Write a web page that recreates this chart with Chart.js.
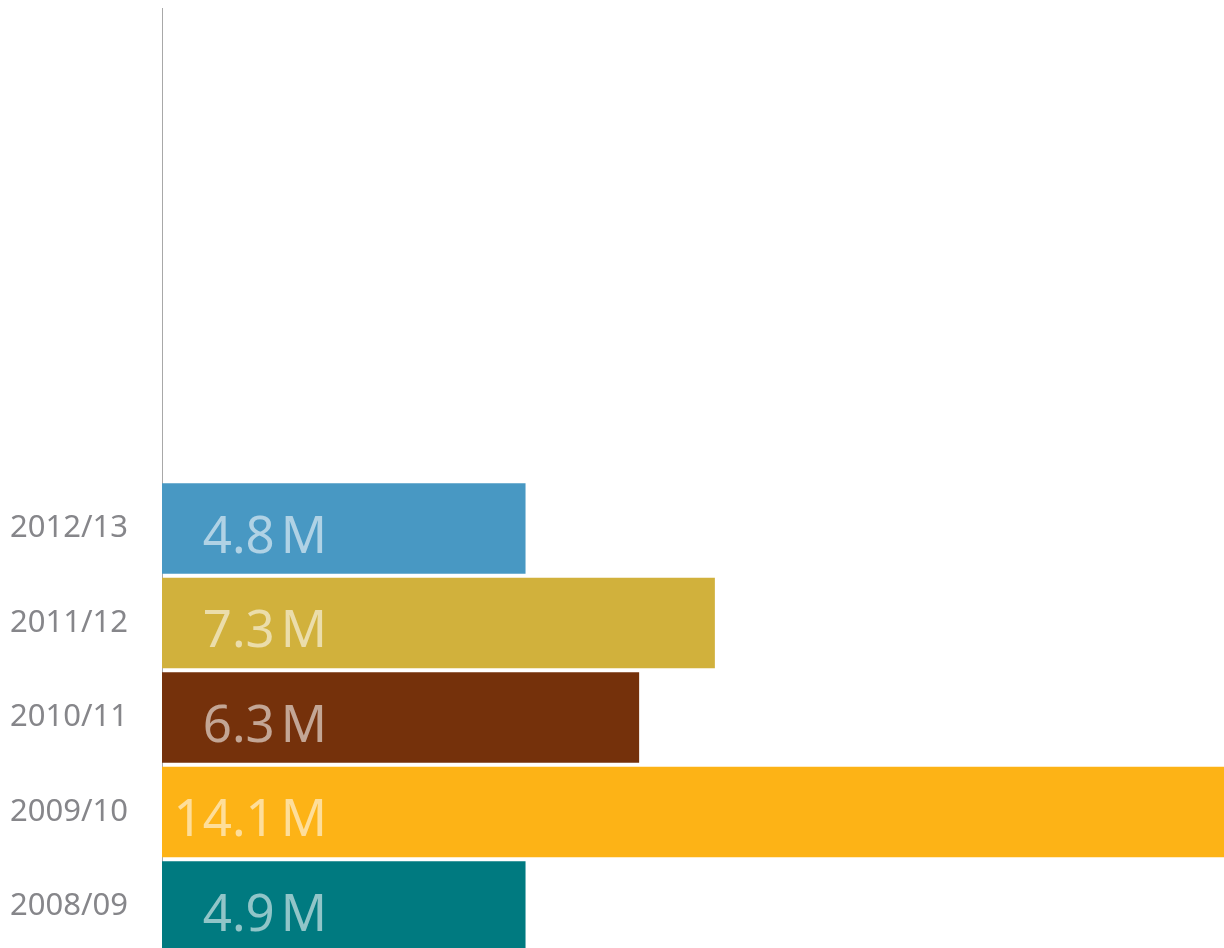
<!DOCTYPE html>
<html>
<head>
<meta charset="utf-8">
<script src="https://cdn.jsdelivr.net/npm/chart.js@4/dist/chart.umd.min.js"></script>
<style>
  html, body { margin: 0; padding: 0; background: #ffffff; overflow: hidden; }
  #wrap { width: 1224px; height: 948px; overflow: hidden; }
  canvas { display: block; }
</style>
</head>
<body>
<div id="wrap"><canvas id="c" width="1224" height="1010"></canvas></div>
<script>
// Categories, top to bottom (the five upper slots are empty in the chart)
const categories = ['', '', '', '', '', '2012/13', '2011/12', '2010/11', '2009/10', '2008/09'];
// Bar lengths (millions)
const values = [null, null, null, null, null, 4.8, 7.3, 6.3, 14.1, 4.8];
// Value texts printed on the bars
const valueLabels = ['', '', '', '', '', '4.8', '7.3', '6.3', '14.1', '4.9'];
const valueUnit = 'M';
const barColors = ['#ffffff', '#ffffff', '#ffffff', '#ffffff', '#ffffff',
                   '#4898C3', '#D1B13C', '#75310B', '#FDB316', '#007A80'];
const xMin = 0;
const xMax = 14;

const valueLabelPlugin = {
  id: 'valueLabels',
  afterDatasetsDraw(chart) {
    const ctx = chart.ctx;
    const meta = chart.getDatasetMeta(0);
    const x0 = chart.scales.x.getPixelForValue(0);
    ctx.save();
    ctx.font = '51px "Noto Sans"';
    ctx.fillStyle = 'rgba(255,255,255,0.57)';
    ctx.textBaseline = 'alphabetic';
    ctx.textAlign = 'right';
    meta.data.forEach((el, i) => {
      if (values[i] == null) return;
      const right = x0 + 165;
      const baseY = el.y + 24;
      const mW = ctx.measureText(valueUnit).width;
      ctx.fillText(valueUnit, right, baseY);
      ctx.fillText(valueLabels[i], right - mW - 6, baseY);
    });
    ctx.restore();
  }
};

new Chart(document.getElementById('c'), {
  type: 'bar',
  data: {
    labels: categories,
    datasets: [{
      data: values,
      backgroundColor: barColors,
      borderWidth: 0,
      barPercentage: 0.96,
      categoryPercentage: 1.0,
      clip: false
    }]
  },
  options: {
    indexAxis: 'y',
    responsive: false,
    animation: false,
    devicePixelRatio: 1,
    layout: { padding: { top: 8.75, right: 1.7, bottom: 56.25, left: 0 } },
    plugins: { legend: { display: false }, tooltip: { enabled: false } },
    scales: {
      x: { display: false, min: xMin, max: xMax },
      y: {
        z: 1,
        grid: { display: false, drawTicks: false },
        border: { display: true, color: '#a8a8a8', width: 1 },
        ticks: {
          color: '#86868a',
          font: { family: '"Noto Sans"', size: 31 },
          padding: 34
        },
        afterFit(scale) {
          scale.width = 162;
          scale.paddingTop = 0;
          scale.paddingBottom = 0;
        }
      }
    }
  },
  plugins: [valueLabelPlugin]
});
</script>
</body>
</html>
